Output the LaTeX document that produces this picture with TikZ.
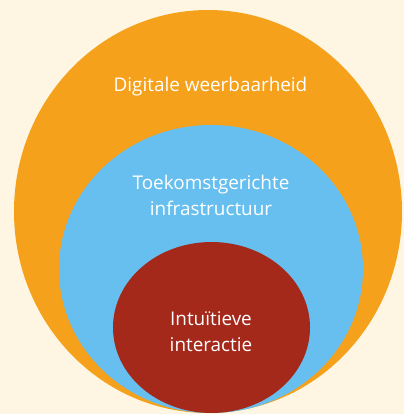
\documentclass[tikz,border=0pt]{standalone}
\usepackage{fontspec}
\setmainfont{Open Sans}
\usetikzlibrary{shapes.geometric,positioning}
\definecolor{cream}{HTML}{FEF6E3}
\definecolor{oranje}{HTML}{F5A11C}
\definecolor{lichtblauw}{HTML}{66BFEE}
\definecolor{donkerrood}{HTML}{A5291B}

\begin{document}
\begin{tikzpicture}[x=1bp,y=1bp,
    ring/.style={ellipse,inner sep=0pt,outer sep=0pt},
    label/.style={text=white,align=center,anchor=base,
      font=\fontsize{18.9bp}{26bp}\selectfont}]
   \fill[cream] (0,0) rectangle (404,414);
   \useasboundingbox (0,0) rectangle (404,414);
   \node [ring, fill=oranje, minimum width=388bp, minimum height=403bp] (weer) at (208,202.5) {};
   \node [ring, fill=lichtblauw, minimum width=304bp, minimum height=288bp] (infra) at (211,145) {};
   \node [ring, fill=donkerrood, minimum width=197bp, minimum height=171bp] (inter) at (211.5,86.5) {};
   \node [label] (t_weer) at (210.5,323) {Digitale weerbaarheid};
   \node [label] (t_infra) at (211,199) {Toekomstgerichte\\infrastructuur};
   \node [label] (t_inter) at (211,63) {Intuïtieve\\interactie};
\end{tikzpicture}
\end{document}
